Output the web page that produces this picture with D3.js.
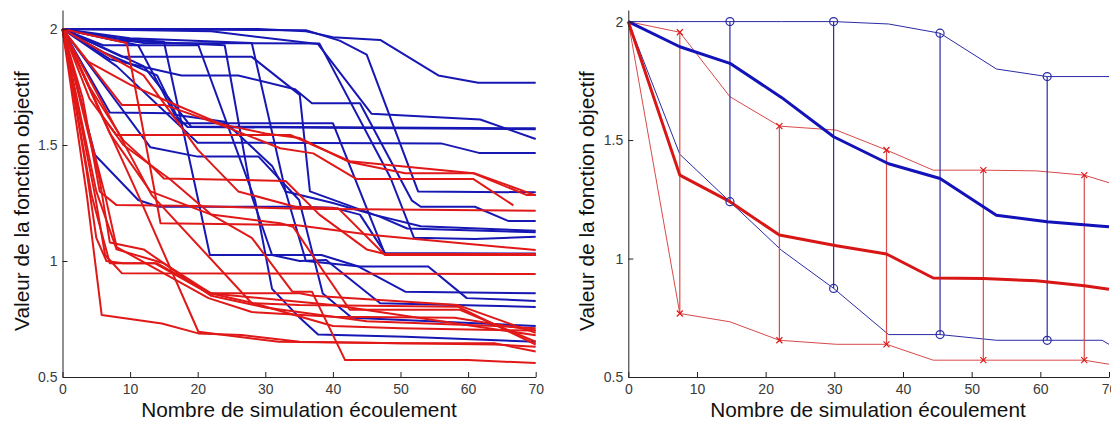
<!DOCTYPE html>
<html><head><meta charset="utf-8">
<script src="https://cdn.jsdelivr.net/npm/d3@7/dist/d3.min.js"></script>
<style>
html,body{margin:0;padding:0;background:#fff;}
svg{display:block;font-family:"Liberation Sans",Arial,sans-serif;}
</style></head>
<body>
<svg id="c" width="1111" height="421"></svg>
<script>
// ---------------- DATA ----------------
const xTicks = [0,10,20,30,40,50,60,70];
const yTicks = [0.5,1,1.5,2];
const xTitle = "Nombre de simulation écoulement";
const yTitle = "Valeur de la fonction objectif";

// Left panel: individual runs, [simulation count, objective value]
const blueRuns = [
  [[0,2],[29,2],[36,1.99],[40,1.965],[47,1.953],[55.6,1.80],[61.5,1.768],[70,1.768]],
  [[0,2],[36,1.995],[41,1.95],[45,1.89],[52.6,1.30],[70,1.296]],
  [[0,2],[22,1.99],[37.8,1.935],[45.7,1.635],[61.8,1.61],[70,1.526]],
  [[0,2],[7,1.87],[17.6,1.80],[26,1.80],[34.4,1.74],[36.9,1.68],[44,1.68],[51.7,1.26],[53,1.234],[61,1.234],[66,1.172],[70,1.172]],
  [[0,2],[12,1.84],[19,1.58],[70,1.572]],
  [[0,2],[6,1.90],[14,1.80],[17,1.62],[18.5,1.578],[70,1.568]],
  [[0,2],[7,1.64],[16,1.637],[17.6,1.594],[40,1.594],[47.7,1.03],[70,1.026]],
  [[0,2],[8,1.84],[20,1.51],[56,1.507],[61.6,1.466],[70,1.466]],
  [[0,2],[4.8,1.457],[11.2,1.263],[14.2,1.234],[34.4,1.234],[40,1.23],[44,1.20],[47.7,1.035],[70,1.032]],
  [[0,2],[8,1.96],[15,1.945],[20.1,1.26],[21.8,1.026],[38.3,1.026],[43.8,0.976],[50.7,0.868],[70,0.861]],
  [[0,2],[8,1.95],[24,1.93],[28,1.28],[31,1.026],[35.1,1.0],[39,1.004],[47,0.818],[70,0.802]],
  [[0,2],[6,1.93],[20.1,1.93],[28.5,1.26],[31,0.88],[35.1,0.755],[37.8,0.683],[50.7,0.674],[70,0.652]],
  [[0,2],[12,1.94],[38,1.938],[48.5,1.36],[52,1.10],[61,1.095],[70,1.105]],
  [[0,2],[8.8,1.88],[28,1.88],[35.1,1.716],[36.6,1.30],[47,1.19],[51,1.14],[70,1.124]],
  [[0,2],[13,1.49],[20,1.45],[29,1.45],[35,1.263],[38.5,0.86],[42.8,0.755],[70,0.72]],
  [[0,2],[10,1.96],[28,1.94],[33,1.30],[36,1.00],[44,0.976],[54.1,0.976],[59.8,0.84],[70,0.828]],
  [[0,2],[11.2,1.93],[16.6,1.63],[24,1.60],[31,1.41],[33,1.30],[40,1.25],[46,1.20],[53,1.15],[70,1.13]]
];
const redRuns = [
  [[0,2],[3.8,1.86],[10,1.76],[16.2,1.68],[23.5,1.59],[30,1.55],[35.1,1.53],[42.3,1.428],[50.7,1.378],[61,1.378],[70,1.283]],
  [[0,2],[6,1.62],[8,1.543],[33.7,1.543],[42.5,1.43],[60.8,1.378],[68.7,1.284],[70,1.284]],
  [[0,2],[8.8,1.672],[15.2,1.672],[23.5,1.586],[32.2,1.486],[37.1,1.464],[43.5,1.353],[60.8,1.353],[66.7,1.24]],
  [[0,2],[9.5,1.94],[13,1.40],[14.5,1.163],[34.4,1.155],[45.8,1.112],[70,1.047]],
  [[0,2],[3,1.70],[5.5,1.30],[8,1.241],[20,1.237],[35,1.225],[70,1.217]],
  [[0,2],[12,1.80],[20,1.48],[26,1.30],[34.4,1.234],[40.8,1.227],[47.7,1.026],[70,1.026]],
  [[0,2],[4.8,1.284],[6.3,1.026],[8.8,0.947],[70,0.944]],
  [[0,2],[3.6,1.284],[5.8,0.767],[14.7,0.731],[20.1,0.688],[26.5,0.681],[35.1,0.652],[50,0.645],[64,0.64],[70,0.63]],
  [[0,2],[4.3,1.284],[7,0.99],[13.7,0.99],[21.6,0.861],[35.1,0.861],[37,0.85],[58.5,0.81],[70,0.69]],
  [[0,2],[6.3,1.284],[8,1.06],[21.6,0.84],[28,0.78],[40,0.76],[58,0.755],[70,0.70]],
  [[0,2],[11.2,1.284],[20.1,0.695],[32,0.652],[50,0.645],[64,0.645],[70,0.61]],
  [[0,2],[13.2,1.284],[28,0.818],[35,0.81],[58.5,0.803],[70,0.64]],
  [[0,2],[4,1.70],[9,1.50],[16,1.35],[22,1.20],[28,1.10],[34,0.868],[36.9,0.868],[41.8,0.573],[60,0.573],[70,0.56]],
  [[0,2],[7,1.55],[13,1.30],[22,1.20],[32.2,1.163],[34.1,1.148],[42.5,0.79],[58.8,0.79],[70,0.652]],
  [[0,2],[4,1.75],[9,1.52],[13.5,1.40],[15,1.356],[33,1.345],[38,1.20],[45,1.05],[47.7,1.03],[70,1.03]],
  [[0,2],[5,1.30],[8,1.05],[15,0.99],[22,0.86],[28,0.82],[40,0.72],[50,0.71],[70,0.70]],
  [[0,2],[3.5,1.40],[5,1.10],[6.5,1.0],[9,0.99],[14,0.99],[22,0.86],[40,0.81],[70,0.68]],
  [[0,2],[5.5,1.35],[7,1.08],[12,1.05],[22,0.85],[30,0.80],[45,0.74],[64,0.72],[70,0.71]]
];

// Right panel: summary curves
const blueX    = [0,7.5,14.8,22.3,29.9,37.9,45.4,53.6,61,69,70];
const blueMean = [2,1.894,1.824,1.68,1.514,1.40,1.338,1.183,1.155,1.136,1.134];
const blueMax  = [2,2,2,2,2,1.99,1.951,1.80,1.768,1.768,1.768];
const blueMin  = [2,1.44,1.24,1.035,0.874,0.679,0.679,0.655,0.655,0.655,0.638];
const blueBarIdx = [2,4,6,8];

const redX    = [0,7.5,14.8,22,30.3,37.6,44.4,51.7,59.4,66.4,70];
const redMean = [2,1.352,1.24,1.099,1.054,1.019,0.918,0.916,0.906,0.885,0.87];
const redMax  = [2,1.955,1.683,1.559,1.542,1.458,1.373,1.373,1.37,1.352,1.32];
const redMin  = [2,0.768,0.733,0.655,0.638,0.638,0.571,0.571,0.571,0.571,0.554];
const redBarIdx = [1,3,5,7,9];

// ---------------- DRAW ----------------
const svg = d3.select("#c");
const BLUE = "#1717b4", RED = "#e01818";

function makeAxes(g, x, y, cx, ytx){
  const ax = g.append("g").attr("transform",`translate(0,${y.range()[0]})`)
    .call(d3.axisBottom(x).tickValues(xTicks).tickSize(-5).tickSizeOuter(0).tickPadding(7).tickFormat(d3.format("d")));
  const ay = g.append("g").attr("transform",`translate(${x.range()[0]},0)`)
    .call(d3.axisLeft(y).tickValues(yTicks).tickSize(-5).tickSizeOuter(0).tickPadding(5).tickFormat(d=>String(d)));
  [ax,ay].forEach(a=>{
    a.selectAll("text").attr("font-size",14).attr("fill","#3a3a3a").attr("font-family","Liberation Sans, Arial, sans-serif");
    a.selectAll("line").attr("stroke","#222");
    a.select(".domain").attr("stroke","#222");
  });
  g.append("text").attr("x",cx).attr("y",416.5).attr("text-anchor","middle")
    .attr("font-size",20.8).attr("fill","#111").text(xTitle);
  g.append("text").attr("transform",`translate(${ytx},201) rotate(-90)`).attr("text-anchor","middle")
    .attr("font-size",20.8).attr("fill","#111").text(yTitle);
}

// Left panel
const xL = d3.scaleLinear().domain([0,70]).range([62.5,535.7]);
const yL = d3.scaleLinear().domain([0.5,2.082]).range([377,10]);
const gL = svg.append("g");
const lineL = d3.line().x(d=>xL(d[0])).y(d=>yL(d[1]));
gL.selectAll("path.b").data(blueRuns).join("path").attr("class","b")
  .attr("d",lineL).attr("fill","none").attr("stroke",BLUE).attr("stroke-width",2).attr("stroke-linejoin","round");
gL.selectAll("path.r").data(redRuns).join("path").attr("class","r")
  .attr("d",lineL).attr("fill","none").attr("stroke",RED).attr("stroke-width",2).attr("stroke-linejoin","round");
makeAxes(gL, xL, yL, 299, 28.5);

// Right panel
const xR = d3.scaleLinear().domain([0,70]).range([628.3,1109]);
const yR = d3.scaleLinear().domain([0.5,2.049]).range([377,10]);
const gR = svg.append("g");
function series(xs, ys){ return xs.map((v,i)=>[v,ys[i]]); }
const lineR = d3.line().x(d=>xR(d[0])).y(d=>yR(d[1]));
const THIN_B = "#2a2aa6", THIN_R = "#d84a4a";

// thin envelopes
[[blueX,blueMax,THIN_B],[blueX,blueMin,THIN_B],[redX,redMax,THIN_R],[redX,redMin,THIN_R]].forEach(([xs,ys,c])=>{
  gR.append("path").datum(series(xs,ys)).attr("d",lineR).attr("fill","none").attr("stroke",c).attr("stroke-width",1);
});
// vertical bars
gR.selectAll("line.bb").data(blueBarIdx).join("line").attr("class","bb")
  .attr("x1",i=>xR(blueX[i])).attr("x2",i=>xR(blueX[i]))
  .attr("y1",i=>yR(blueMax[i])).attr("y2",i=>yR(blueMin[i]))
  .attr("stroke",THIN_B).attr("stroke-width",1.2);
gR.selectAll("line.rb").data(redBarIdx).join("line").attr("class","rb")
  .attr("x1",i=>xR(redX[i])).attr("x2",i=>xR(redX[i]))
  .attr("y1",i=>yR(redMax[i])).attr("y2",i=>yR(redMin[i]))
  .attr("stroke",THIN_R).attr("stroke-width",1.2);
// means
gR.append("path").datum(series(blueX,blueMean)).attr("d",lineR).attr("fill","none").attr("stroke","#1212b8").attr("stroke-width",3).attr("stroke-linejoin","round");
gR.append("path").datum(series(redX,redMean)).attr("d",lineR).attr("fill","none").attr("stroke","#d81616").attr("stroke-width",3).attr("stroke-linejoin","round");
// markers
const circ = blueBarIdx.flatMap(i=>[[blueX[i],blueMax[i]],[blueX[i],blueMin[i]]]);
gR.selectAll("circle.m").data(circ).join("circle").attr("class","m")
  .attr("cx",d=>xR(d[0])).attr("cy",d=>yR(d[1])).attr("r",4)
  .attr("fill","none").attr("stroke",THIN_B).attr("stroke-width",1.2);
const xm = redBarIdx.flatMap(i=>[[redX[i],redMax[i]],[redX[i],redMin[i]]]);
gR.selectAll("path.x").data(xm).join("path").attr("class","x")
  .attr("d",d=>{const cx=xR(d[0]),cy=yR(d[1]),s=3;return `M${cx-s},${cy-s}L${cx+s},${cy+s}M${cx-s},${cy+s}L${cx+s},${cy-s}`;})
  .attr("stroke",RED).attr("stroke-width",1.2);
makeAxes(gR, xR, yR, 868, 594);
</script>
</body></html>
